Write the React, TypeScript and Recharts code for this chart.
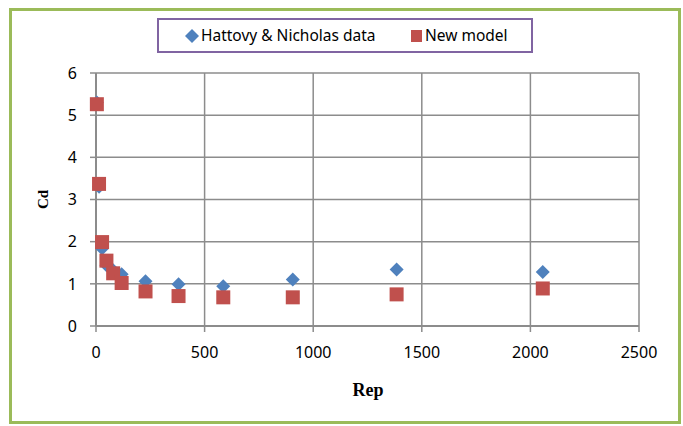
import React from "react";
import {
  CartesianGrid,
  Scatter,
  ScatterChart,
  XAxis,
  YAxis
} from "recharts";

const reynolds = [4, 14, 28, 48, 79, 118, 228, 380, 586, 906, 1384, 2057];
const measuredCd = [5.3, 3.3, 1.84, 1.44, 1.32, 1.23, 1.06, 0.99, 0.94, 1.1, 1.34, 1.28];
const modelCd = [5.26, 3.37, 1.99, 1.55, 1.25, 1.02, 0.82, 0.71, 0.68, 0.68, 0.75, 0.89];
const xTicks = [0, 500, 1000, 1500, 2000, 2500];
const yTicks = [0, 1, 2, 3, 4, 5, 6];

const measured = reynolds.map((re, i) => ({ re, cd: measuredCd[i] }));
const model = reynolds.map((re, i) => ({ re, cd: modelCd[i] }));

const BLUE = "#4F81BD";
const RED = "#C0504D";
const GRID = "#8c8c8c";
const FONT = "'Noto Sans', sans-serif";

function Diamond(props: any) {
  const { cx, cy } = props;
  const r = 7;
  return (
    <path
      d={`M${cx},${cy - r} L${cx + r},${cy} L${cx},${cy + r} L${cx - r},${cy} Z`}
      fill={BLUE}
    />
  );
}

function Square(props: any) {
  const { cx, cy } = props;
  const s = 14;
  return <rect x={cx - s / 2} y={cy - s / 2} width={s} height={s} fill={RED} />;
}

export default function App() {
  return (
    <div style={{ position: "absolute", left: 0, top: 0, width: 683, height: 426, background: "#fff" }}>
      <div
        style={{
          position: "absolute",
          left: 9,
          top: 8,
          width: 666,
          height: 410,
          border: "3px solid #9BBB59"
        }}
      />
      <div
        style={{
          position: "absolute",
          left: 157,
          top: 18,
          width: 372,
          height: 31,
          border: "2px solid #8064A2",
          fontFamily: FONT,
          fontSize: 15.5,
          color: "#000"
        }}
      >
        <svg width={14} height={14} style={{ position: "absolute", left: 26, top: 9 }}>
          <path d="M7,0 L14,7 L7,14 L0,7 Z" fill={BLUE} />
        </svg>
        <span style={{ position: "absolute", left: 42, top: 4 }}>Hattovy &amp; Nicholas data</span>
        <svg width={11} height={12} style={{ position: "absolute", left: 252, top: 10 }}>
          <rect x={0} y={0} width={11} height={12} fill={RED} />
        </svg>
        <span style={{ position: "absolute", left: 266, top: 4 }}>New model</span>
      </div>
      <ScatterChart
        width={683}
        height={426}
        margin={{ top: 73, right: 44, bottom: 0, left: 40 }}
        style={{ position: "absolute", left: 0, top: 0 }}
      >
        <CartesianGrid stroke={GRID} strokeWidth={1.5} />
        <XAxis
          type="number"
          dataKey="re"
          domain={[0, 2500]}
          ticks={xTicks}
          height={100}
          axisLine={{ stroke: GRID, strokeWidth: 2 }}
          tickLine={{ stroke: GRID, strokeWidth: 1.5 }}
          tickSize={6}
          tickMargin={15}
          tick={{ fill: "#000", fontSize: 16, fontFamily: FONT }}
          label={{
            content: () => (
              <text
                x={368}
                y={392}
                textAnchor="middle"
                dominantBaseline="middle"
                fontFamily="'Liberation Serif', serif"
                fontWeight="bold"
                fontSize={18}
                fill="#000"
              >
                Rep
              </text>
            )
          }}
        />
        <YAxis
          type="number"
          dataKey="cd"
          domain={[0, 6]}
          ticks={yTicks}
          width={56}
          axisLine={{ stroke: GRID, strokeWidth: 2 }}
          tickLine={{ stroke: GRID, strokeWidth: 1.5 }}
          tickSize={6}
          tickMargin={13}
          tick={{ fill: "#000", fontSize: 16, fontFamily: FONT }}
          label={{
            content: (p: any) => {
              const vb = p.viewBox;
              const cy = vb.y + vb.height / 2;
              return (
                <text
                  x={45}
                  y={cy}
                  transform={`rotate(-90, 45, ${cy})`}
                  textAnchor="middle"
                  dominantBaseline="middle"
                  fontFamily="'Liberation Serif', serif"
                  fontWeight="bold"
                  fontSize={15}
                  fill="#000"
                >
                  Cd
                </text>
              );
            }
          }}
        />
        <Scatter data={measured} shape={Diamond} isAnimationActive={false} />
        <Scatter data={model} shape={Square} isAnimationActive={false} />
      </ScatterChart>
    </div>
  );
}
